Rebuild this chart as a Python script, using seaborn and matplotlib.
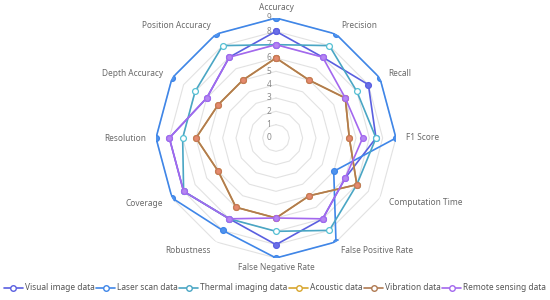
import numpy as np
import pandas as pd
import seaborn as sns
import matplotlib
matplotlib.use("Agg")
import matplotlib.pyplot as plt
from matplotlib.lines import Line2D
from matplotlib.transforms import offset_copy

# ---------------- data ----------------
indicators = ["Accuracy", "Precision", "Recall", "F1 Score", "Computation Time",
              "False Positive Rate", "False Negative Rate", "Robustness", "Coverage",
              "Resolution", "Depth Accuracy", "Position Accuracy"]
series_names = ["Visual image data", "Laser scan data", "Thermal imaging data",
                "Acoustic data", "Vibration data", "Remote sensing data"]
visual = [8, 7, 8, 7.5, 6, 7, 8, 7, 8, 8, 6, 7]
laser = [9, 9, 9, 9, 5, 9, 9, 8, 9, 9, 9, 9]
thermal = [7, 8, 7, 7.5, 7, 8, 7, 7, 8, 7, 7, 8]
acoustic = [6, 5, 6, 5.5, 7, 5, 6, 6, 5, 6, 5, 5]
vibration = [6, 5, 6, 5.5, 7, 5, 6, 6, 5, 6, 5, 5]
remote = [7, 7, 6, 6.5, 6, 7, 6, 7, 8, 8, 6, 7]
tick_values = list(range(0, 10))
r_max = 9

line_colors = ["#5a5fe0", "#3f86e8", "#4aa6c4", "#d8a62e", "#b07a52", "#a368ee"]
face_colors = ["#6a6ee8", "#4f93ee", "#ffffff", "#e8bc50", "#e58a6c", "#b487f2"]
edge_colors = ["#5a5fe0", "#3f86e8", "#55c0d4", "#d8a62e", "#c47858", "#a368ee"]

# ---------------- style ----------------
sns.set_theme(style="white")
plt.rcParams["font.family"] = ["Noto Sans", "DejaVu Sans"]

fig = plt.figure(figsize=(5.5, 3.0), dpi=100)
ax = fig.add_axes([0.2836, 0.14, 0.4364, 0.80], projection="polar")
ax.set_theta_zero_location("N")
ax.set_theta_direction(-1)
ax.patch.set_alpha(0)

n = len(indicators)
theta = np.arange(n) * 2 * np.pi / n
theta_closed = np.append(theta, theta[0] + 2 * np.pi)

# polygon grid rings
for r in tick_values[1:]:
    ax.plot(theta_closed, [r] * (n + 1), color="#e2e2e2", lw=0.8, zorder=1)

all_values = [visual, laser, thermal, acoustic, vibration, remote]
for i, (name, vals) in enumerate(zip(series_names, all_values)):
    df = pd.DataFrame({"theta": theta_closed, "value": list(vals) + [vals[0]]})
    sns.lineplot(data=df, x="theta", y="value", ax=ax, sort=False, estimator=None,
                 color=line_colors[i], lw=1.2, marker="o", markersize=4.2,
                 markerfacecolor=face_colors[i], markeredgecolor=edge_colors[i],
                 markeredgewidth=0.9, zorder=3 + i)

ax.set_ylim(0, r_max)
ax.grid(False)
ax.set_xticks([])
ax.set_yticks([])
ax.set_xlabel("")
ax.set_ylabel("")
ax.spines["polar"].set_visible(False)

# value labels along the first axis
tick_tr = offset_copy(ax.transData, fig=fig, x=-7, y=0, units="dots")
for v in tick_values:
    ax.text(0, v, str(v), transform=tick_tr, ha="center", va="center",
            fontsize=6, color="#8a8a8a", zorder=2)

# indicator names
for th, name in zip(theta, indicators):
    s = np.sin(th)
    if abs(s) < 1e-6:
        ha = "center"
    elif s > 0:
        ha = "left"
    else:
        ha = "right"
    ax.text(th, r_max * 130 / 120, name, ha=ha, va="center", fontsize=6,
            color="#6a6a6a", clip_on=False)

handles = [Line2D([0], [0], color=line_colors[i], lw=1.2, marker="o", markersize=4,
                  markerfacecolor="white", markeredgecolor=line_colors[i],
                  markeredgewidth=1.0) for i in range(len(series_names))]
fig.legend(handles, series_names, loc="center", bbox_to_anchor=(0.5, 0.04),
           ncol=6, frameon=False, fontsize=6, handlelength=2.3, handletextpad=0.25,
           columnspacing=0.15, labelcolor="#555555")

fig.savefig("out.png", dpi=100, facecolor="white")
